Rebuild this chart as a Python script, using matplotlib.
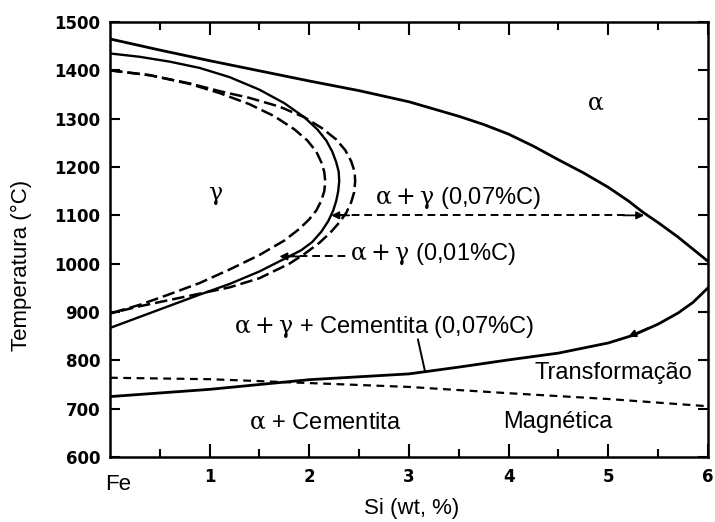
import matplotlib
matplotlib.use("Agg")
import matplotlib.pyplot as plt
import numpy as np

plt.rcParams['font.family'] = ['Liberation Sans', 'DejaVu Sans']
plt.rcParams['mathtext.fontset'] = 'custom'
plt.rcParams['mathtext.rm'] = 'DejaVu Serif'
plt.rcParams['mathtext.it'] = 'DejaVu Serif'

# limite superior (alfa / alfa + gama)
si_alfa = [0, 0.5, 1, 1.5, 2, 2.5, 3, 3.5, 3.75, 4, 4.25, 4.5, 4.75, 5,
           5.2, 5.35, 5.5, 5.7, 5.85, 6]
t_alfa = [1465, 1442, 1420, 1399, 1378, 1358, 1335, 1305, 1288, 1268, 1243,
          1215, 1188, 1158, 1130, 1106, 1085, 1055, 1030, 1005]

# laço gama - linha cheia
si_gama = [0, 0.3, 0.6, 0.9, 1.2, 1.5, 1.75, 1.95, 2.08, 2.17, 2.23, 2.27,
           2.295, 2.3, 2.29, 2.27, 2.24, 2.19, 2.12, 2.03, 1.92, 1.75, 1.5,
           1.2, 0.9, 0.6, 0.3, 0]
t_gama = [1435, 1428, 1418, 1405, 1386, 1360, 1332, 1303, 1278, 1255, 1232,
          1210, 1190, 1170, 1150, 1130, 1110, 1088, 1066, 1045, 1028, 1010,
          984, 958, 936, 913, 890, 867]

# laço gama - tracejado interno
si_int = [0, 0.4, 0.8, 1.1, 1.4, 1.65, 1.85, 1.98, 2.07, 2.12, 2.15, 2.16,
          2.15, 2.12, 2.07, 2.0, 1.9, 1.75, 1.5, 1.2, 0.9, 0.6, 0.3, 0]
t_int = [1400, 1390, 1372, 1353, 1330, 1305, 1278, 1255, 1232, 1210, 1190,
         1170, 1150, 1130, 1110, 1092, 1072, 1048, 1018, 988, 960, 937, 915, 897]

# laço gama - tracejado externo
si_ext = [0, 0.4, 0.8, 1.1, 1.4, 1.7, 1.95, 2.13, 2.27, 2.36, 2.42, 2.455,
          2.46, 2.45, 2.42, 2.37, 2.3, 2.21, 2.1, 1.95, 1.8, 1.5, 1.2, 0.9,
          0.6, 0.3, 0]
t_ext = [1400, 1390, 1373, 1357, 1343, 1325, 1303, 1280, 1257, 1235, 1212,
         1190, 1170, 1148, 1127, 1105, 1085, 1064, 1043, 1020, 1000, 970, 951,
         938, 925, 912, 897]

# alfa + gama + cementita
si_cem = [0, 1, 2, 3, 3.5, 4, 4.5, 5, 5.25, 5.5, 5.7, 5.85, 6]
t_cem = [725, 740, 760, 772, 786, 801, 815, 836, 852, 875, 898, 920, 950]

# transformação magnética
si_mag = [0, 1, 2, 3, 4, 5, 6]
t_mag = [764, 761, 753, 745, 732, 720, 705]

# linhas de ligação
t_liga_007 = 1100
si_liga_007 = [2.3, 5.2]
t_liga_001 = 1015
si_liga_001 = [1.78, 2.38]

fig = plt.figure(figsize=(7.15, 5.22), dpi=100)
ax = fig.add_axes([0.1538, 0.1245, 0.8364, 0.8333])

ax.plot(si_alfa, t_alfa, color='black', lw=2.0)
ax.plot(si_gama, t_gama, color='black', lw=1.7)
ax.plot(si_int, t_int, color='black', lw=1.8, dashes=(5, 2))
ax.plot(si_ext, t_ext, color='black', lw=1.8, dashes=(5, 2))
ax.plot(si_cem, t_cem, color='black', lw=2.0)
ax.plot(si_mag, t_mag, color='black', lw=1.6, dashes=(3.5, 2.5))

ax.plot(si_liga_007, [t_liga_007] * 2, color='black', lw=1.4, dashes=(4, 2.5))
ax.plot(si_liga_001, [t_liga_001] * 2, color='black', lw=1.4, dashes=(4, 2.5))

seta = dict(arrowstyle='-|>', color='black', lw=1.3, mutation_scale=11,
            shrinkA=0, shrinkB=0)
ax.annotate('', xy=(5.36, t_liga_007), xytext=(5.15, t_liga_007), arrowprops=seta)
ax.annotate('', xy=(2.22, t_liga_007), xytext=(2.4, t_liga_007), arrowprops=seta)
ax.annotate('', xy=(1.7, t_liga_001), xytext=(1.9, t_liga_001), arrowprops=seta)
ax.annotate('', xy=(5.2, 849), xytext=(5.4, 867), arrowprops=seta)

# legenda do campo de três fases
ax.plot([3.09, 3.16], [843, 778], color='black', lw=1.4)

fs = 17
ax.text(4.87, 1332, r'$\mathrm{\alpha}$', fontsize=fs, ha='center', va='center')
ax.text(1.06, 1140, r'$\mathrm{\gamma}$', fontsize=fs, ha='center', va='center')
ax.text(3.49, 1135, r'$\mathrm{\alpha + \gamma}$ (0,07%C)', fontsize=fs,
        ha='center', va='center')
ax.text(3.24, 1020, r'$\mathrm{\alpha + \gamma}$ (0,01%C)', fontsize=fs,
        ha='center', va='center')
ax.text(2.75, 869, r'$\mathrm{\alpha + \gamma}$ + Cementita (0,07%C)', fontsize=fs,
        ha='center', va='center')
ax.text(5.05, 774, 'Transformação', fontsize=fs, ha='center', va='center')
ax.text(2.16, 672, r'$\mathrm{\alpha}$ + Cementita', fontsize=fs,
        ha='center', va='center')
ax.text(4.49, 672, 'Magnética', fontsize=fs, ha='center', va='center')

ax.set_xlim(0, 6)
ax.set_ylim(600, 1500)
ax.set_xticks([1, 2, 3, 4, 5, 6])
ax.set_xticks(np.arange(0.5, 6, 1.0), minor=True)
ax.set_yticks(np.arange(600, 1501, 100))
ax.tick_params(axis='both', which='both', direction='in', top=True, right=True,
               width=1.5)
ax.tick_params(axis='x', which='major', length=9.5, pad=8, labelsize=12)
ax.tick_params(axis='x', which='minor', length=6)
ax.tick_params(axis='y', which='major', length=7, pad=7, labelsize=12)
for lab in ax.get_xticklabels() + ax.get_yticklabels():
    lab.set_fontweight('bold')
    lab.set_family('DejaVu Sans')

ax.text(0.08, -0.064, 'Fe', fontsize=16, ha='center', va='center',
        transform=ax.get_xaxis_transform())

for sp in ax.spines.values():
    sp.set_linewidth(1.8)

ax.set_xlabel('Si (wt, %)', fontsize=16)
ax.set_ylabel('Temperatura (°C)', fontsize=16)
ax.xaxis.set_label_coords(0.505, -0.095)
ax.yaxis.set_label_coords(-0.13, 0.441)

fig.savefig('out.png', dpi=100)
